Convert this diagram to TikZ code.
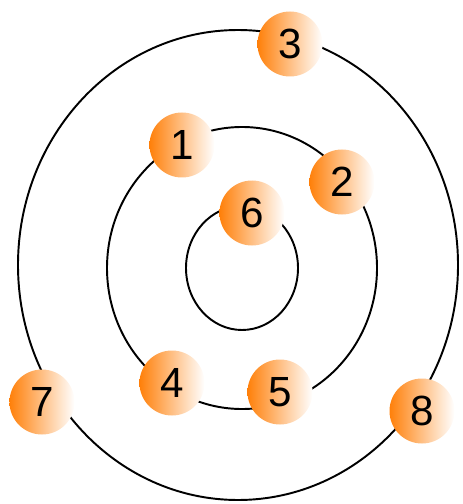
\documentclass[tikz,border=0pt]{standalone}
\usepackage{fontspec}
\setmainfont{Liberation Sans}
\usepackage{xcolor}
\usepackage{tikz}
\usetikzlibrary{positioning}

\definecolor{ballorange}{RGB}{255,128,10}

\begin{document}
\begin{tikzpicture}[
    ring/.style={draw=black, line width=1.1pt},
    ball/.style={circle, minimum size=1.3cm, inner sep=0pt, left color=ballorange, middle color=ballorange!65!white, right color=white,
      font=\fontsize{24}{24}\selectfont}
  ]
    \useasboundingbox (0,0) rectangle (9.24,-10.08);
    % rings
    \draw[ring] (4.76,-5.30) ellipse [x radius=4.40, y radius=4.70];
    \draw[ring] (4.84,-5.36) ellipse [x radius=2.70, y radius=2.82];
    \draw[ring] (4.84,-5.36) ellipse [x radius=1.12, y radius=1.24];
    % balls
    \node[ball] (ball1) at (3.64,-2.90) {1};
    \node[ball] (ball2) at (6.84,-3.64) {2};
    \node[ball] (ball3) at (5.80,-0.88) {3};
    \node[ball] (ball4) at (3.44,-7.66) {4};
    \node[ball] (ball5) at (5.60,-7.84) {5};
    \node[ball] (ball6) at (5.04,-4.26) {6};
    \node[ball] (ball7) at (0.84,-8.04) {7};
    \node[ball] (ball8) at (8.44,-8.22) {8};
  \end{tikzpicture}
\end{document}
